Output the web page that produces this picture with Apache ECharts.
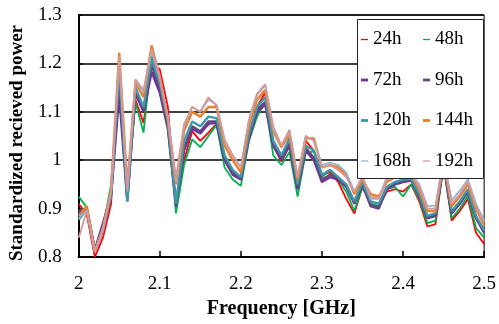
<!DOCTYPE html>
<html>
<head>
<meta charset="utf-8">
<script src="https://cdn.jsdelivr.net/npm/echarts@6/dist/echarts.min.js"></script>
<style>html,body{margin:0;padding:0;background:#fff;}#c{width:499px;height:324px;}</style>
</head>
<body>
<div id="c"></div>
<script>
const freqs = [2.00,2.01,2.02,2.03,2.04,2.05,2.06,2.07,2.08,2.09,2.10,2.11,2.12,2.13,2.14,2.15,2.16,2.17,2.18,2.19,2.20,2.21,2.22,2.23,2.24,2.25,2.26,2.27,2.28,2.29,2.30,2.31,2.32,2.33,2.34,2.35,2.36,2.37,2.38,2.39,2.40,2.41,2.42,2.43,2.44,2.45,2.46,2.47,2.48,2.49,2.50];
const xTicks = ['2','2.1','2.2','2.3','2.4','2.5'];
const yTicks = ['0.8','0.9','1','1.1','1.2','1.3'];
const names = ['24h','48h','72h','96h','120h','144h','168h','192h'];

const h24  = [0.91,0.888,0.80,0.84,0.91,1.19,0.93,1.125,1.077,1.20,1.188,1.11,0.90,1.00,1.06,1.04,1.057,1.075,1.00,0.97,0.96,1.05,1.11,1.14,1.03,0.997,1.03,0.945,1.04,1.02,0.97,0.975,0.955,0.92,0.89,0.945,0.91,0.905,0.935,0.94,0.935,0.95,0.915,0.863,0.868,0.99,0.875,0.895,0.92,0.85,0.827];
const h48  = [0.925,0.902,0.813,0.86,0.95,1.18,0.935,1.12,1.057,1.215,1.16,1.08,0.89,0.99,1.043,1.027,1.05,1.073,0.985,0.96,0.947,1.04,1.09,1.12,1.01,0.99,1.017,0.925,1.015,1.018,0.965,0.98,0.96,0.935,0.895,0.945,0.91,0.905,0.94,0.945,0.925,0.95,0.92,0.87,0.875,0.99,0.88,0.90,0.927,0.86,0.84];
const h72  = [0.89,0.90,0.815,0.87,0.928,1.135,0.915,1.138,1.10,1.182,1.14,1.065,0.905,1.02,1.065,1.055,1.075,1.077,1.00,0.97,0.96,1.045,1.10,1.115,1.03,1.00,1.03,0.94,1.02,1.00,0.955,0.965,0.96,0.945,0.91,0.95,0.905,0.90,0.94,0.95,0.955,0.958,0.925,0.88,0.885,0.99,0.89,0.91,0.935,0.88,0.85];
const h96  = [0.895,0.90,0.813,0.865,0.93,1.16,0.92,1.14,1.105,1.195,1.15,1.07,0.91,1.025,1.07,1.06,1.08,1.08,1.005,0.975,0.962,1.05,1.105,1.12,1.035,1.005,1.035,0.945,1.025,1.005,0.96,0.97,0.962,0.948,0.912,0.952,0.907,0.902,0.942,0.952,0.957,0.96,0.927,0.882,0.887,0.992,0.892,0.912,0.937,0.882,0.852];
const h120 = [0.877,0.898,0.81,0.855,0.925,1.19,0.915,1.15,1.11,1.21,1.16,1.08,0.91,1.04,1.08,1.07,1.09,1.087,1.01,0.98,0.965,1.055,1.11,1.13,1.04,1.01,1.045,0.95,1.03,1.02,0.97,0.98,0.965,0.95,0.915,0.955,0.915,0.91,0.945,0.955,0.96,0.962,0.93,0.885,0.89,0.995,0.895,0.915,0.94,0.885,0.855];
const h144 = [0.885,0.905,0.812,0.86,0.94,1.222,0.945,1.16,1.13,1.237,1.17,1.085,0.95,1.06,1.10,1.09,1.11,1.11,1.03,1.00,0.975,1.07,1.125,1.145,1.06,1.027,1.053,0.96,1.045,1.045,0.985,0.99,0.985,0.97,0.93,0.96,0.93,0.925,0.955,0.965,0.968,0.97,0.94,0.895,0.895,1.00,0.905,0.925,0.95,0.90,0.865];
const h168 = [0.88,0.897,0.812,0.86,0.935,1.21,0.935,1.165,1.14,1.225,1.17,1.09,0.955,1.07,1.11,1.10,1.125,1.115,1.04,1.01,0.985,1.08,1.135,1.155,1.065,1.03,1.06,0.965,1.05,1.04,0.99,0.995,0.99,0.975,0.935,0.967,0.92,0.92,0.965,0.97,0.972,0.972,0.95,0.905,0.906,1.005,0.917,0.937,0.96,0.91,0.875];
const h192 = [0.84,0.895,0.81,0.855,0.935,1.215,0.94,1.167,1.145,1.23,1.175,1.09,0.963,1.075,1.11,1.10,1.13,1.113,1.043,1.01,0.985,1.085,1.137,1.157,1.07,1.03,1.063,0.965,1.05,1.04,0.985,0.99,0.98,0.965,0.935,0.965,0.925,0.92,0.96,0.965,0.97,0.97,0.945,0.90,0.90,1.00,0.91,0.93,0.955,0.905,0.87];

const values = [h24,h48,h72,h96,h120,h144,h168,h192];
const colors = ['#ff0000','#00b050','#7030a0','#604a7b','#3f97ad','#e5802a','#95b3d7','#d99694'];
const widths = [1.8,1.8,2.4,2.4,2.4,2.4,1.8,1.8];
const thick = [false,false,true,true,true,true,false,false];
const FONT = 'Liberation Serif';
const THIN_ICON = 'path://M0,0H70V13H0Z';
const THICK_ICON = 'path://M0,0H70V28H0Z';

const chart = echarts.init(document.getElementById('c'), null, {renderer:'canvas'});
const series = names.map((n,i)=>({
  type:'line', name:n,
  data: freqs.map((f,j)=>[f, values[i][j]]),
  symbol:'none', showSymbol:false,
  lineStyle:{color:colors[i], width:widths[i]},
  itemStyle:{color:colors[i]},
  z:2
}));
const legendItem = (n)=>{ const i = names.indexOf(n);
  return {name:n, icon: thick[i] ? THICK_ICON : THIN_ICON, itemStyle:{color:colors[i], borderWidth:0}}; };
const legendBase = {
  orient:'vertical', top:30, padding:0, itemWidth:7, itemHeight:12, itemGap:21.5,
  textStyle:{fontFamily:FONT, fontSize:19, color:'#000', lineHeight:18},
  z:20, selectedMode:false, symbolKeepAspect:true
};
chart.setOption({
  animation:false,
  backgroundColor:'#fff',
  grid:{left:77, right:12, top:15, bottom:59, show:true, borderColor:'#000', borderWidth:1, backgroundColor:'transparent'},
  xAxis:{
    type:'value', min:2, max:2.5, interval:0.1,
    axisLine:{lineStyle:{color:'#000', width:2}},
    axisTick:{inside:true, length:6, lineStyle:{color:'#000', width:1.5}},
    axisLabel:{fontFamily:FONT, fontSize:19, color:'#000', margin:18,
      formatter:(v)=>xTicks[Math.round((v-2)*10)]},
    splitLine:{show:false},
    name:'Frequency [GHz]', nameLocation:'middle', nameGap:42,
    nameTextStyle:{fontFamily:FONT, fontWeight:'bold', fontSize:20, color:'#000'}
  },
  yAxis:{
    type:'value', min:0.8, max:1.3, interval:0.1,
    axisLine:{show:true, lineStyle:{color:'#000', width:2}},
    axisTick:{show:true, inside:true, length:4, lineStyle:{color:'#000', width:1.5}},
    axisLabel:{fontFamily:FONT, fontSize:19, color:'#000', margin:17,
      formatter:(v)=>yTicks[Math.round((v-0.8)*10)]},
    splitLine:{show:true, lineStyle:{color:['rgba(0,0,0,0)','rgba(0,0,0,0)','#000','#000','#000','#000'], width:1.5}},
    name:'Standardized recieved power', nameLocation:'middle', nameGap:49,
    nameTextStyle:{fontFamily:FONT, fontWeight:'bold', fontSize:19, color:'#000', padding:[0,14,0,0]}
  },
  graphic:{elements:[{type:'rect', z:10, shape:{x:357.5, y:19.5, width:126, height:159},
    style:{fill:'#fff', stroke:'#222', lineWidth:1}}]},
  legend:[
    Object.assign({}, legendBase, {left:361, data:['24h','72h','120h','168h'].map(legendItem)}),
    Object.assign({}, legendBase, {left:423, data:['48h','96h','144h','192h'].map(legendItem)})
  ],
  series: series
});
</script>
</body>
</html>
